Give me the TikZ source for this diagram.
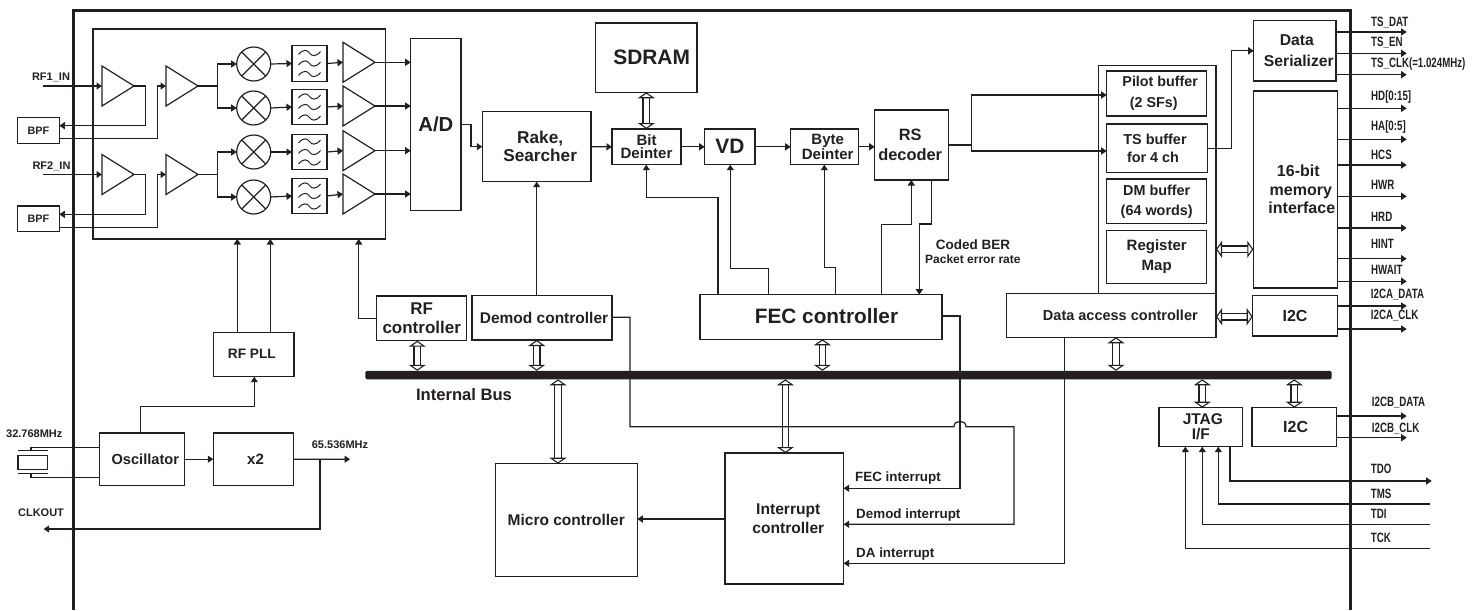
\documentclass[tikz,border=0pt]{standalone}
\usepackage{fontspec}
\setmainfont{Liberation Sans}
\newfontfamily\narrowfont[FakeStretch=0.72]{Liberation Sans}
\usetikzlibrary{arrows.meta,shapes.geometric,calc}
\definecolor{ink}{HTML}{231F20}
\tikzset{
  fs/.style 2 args={font=\bfseries\fontsize{#1}{#2}\selectfont,text=ink},
  block/.style 2 args={draw=ink,line width=1.2pt,anchor=north west,inner sep=0pt,outer sep=0pt,
    align=center,minimum width=#1pt,minimum height=#2pt},
  amp/.style={isosceles triangle,isosceles triangle stretches,shape border rotate=0,draw=ink,
    line width=1.2pt,inner sep=0pt,outer sep=0pt,minimum width=40pt,minimum height=32pt,anchor=west},
  mixer/.style={circle,draw=ink,line width=1.2pt,minimum size=34pt,inner sep=0pt,outer sep=0pt,
    path picture={
      \draw[ink,line width=1.2pt] (path picture bounding box.north west) -- (path picture bounding box.south east);
      \draw[ink,line width=1.2pt] (path picture bounding box.north east) -- (path picture bounding box.south west);}},
  lowpass/.style={block={35}{35.5},anchor=west,
    path picture={
      \foreach \ofs in {-10.5,0,10.5}
        \draw[ink,line width=1pt,shift={(path picture bounding box.center)}]
          (-11,{\ofs+1.5}) .. controls (-6,{\ofs-4.5}) and (-2,{\ofs-3}) .. (0,\ofs)
          .. controls (2,{\ofs+3}) and (6,{\ofs+4.5}) .. (11,{\ofs-1.5});}},
  flow/.style={-{Triangle[length=5.5pt,width=7pt]},draw=ink,line width=1.2pt},
  wire/.style={draw=ink,line width=1.2pt},
  busflow/.style={{Triangle[fill=white,length=6pt,width=17pt,line width=1.1pt]}-{Triangle[fill=white,length=6pt,width=17pt,line width=1.1pt]},
    draw=ink,line width=1.1pt,double=white,double distance=5.5pt},
  pinlabel/.style={anchor=west,inner sep=0pt,text=ink,font=\narrowfont\bfseries\fontsize{13.5}{14}\selectfont}
}
\begin{document}
\begin{tikzpicture}[x=1pt,y=-1pt]
  \useasboundingbox (0,0) rectangle (1482,610);

  % Chip outline, open at the bottom
  \draw[draw=ink,line width=3pt] (73,610) -- (73,11) -- (1350,11) -- (1350,610);

  % RF front end
  \node[block={292.7}{210}] (rfblock) at (93,29) {};
  \node[block={42}{26},fs={10.8}{12}] (bpfa) at (17.3,117.3) {BPF};
  \node[block={42}{25.7},fs={10.8}{12}] (bpfb) at (17.3,206) {BPF};
  \node[amp] (ampa) at (102,86) {};
  \node[amp] (ampb) at (166,86) {};
  \node[amp] (ampc) at (102,174.5) {};
  \node[amp] (ampd) at (166,174.5) {};
  \node[mixer] (mixa) at (253.7,64) {};
  \node[mixer] (mixb) at (253.7,108) {};
  \node[mixer] (mixc) at (253.7,152) {};
  \node[mixer] (mixd) at (253.7,197) {};
  \node[lowpass] (lpfa) at (292,63.5) {};
  \node[lowpass] (lpfb) at (292,107) {};
  \node[lowpass] (lpfc) at (292,152) {};
  \node[lowpass] (lpfd) at (292,196) {};
  \node[amp] (ampe) at (343,62.3) {};
  \node[amp] (ampf) at (343,106) {};
  \node[amp] (ampg) at (343,150.7) {};
  \node[amp] (amph) at (343,194) {};
  \node[block={50.3}{172},fs={20.3}{22}] (adc) at (410.7,38.7) {A/D};
  \node[fs={11}{12}] (rfalabel) at (51,77.3) {RF1\_IN};
  \node[fs={11}{12}] (rfblabel) at (51.5,166.7) {RF2\_IN};
  \coordinate (rfapin) at (43,86);
  \coordinate (rfbpin) at (43,174.5);

  % Clocks
  \node[block={80.3}{44.4},fs={13.7}{15}] (rfpll) at (213.7,332.3) {\hspace*{-4pt}\raisebox{2pt}{RF PLL}};
  \node[block={85}{52.3},fs={14.6}{16}] (osc) at (99.3,433) {\hspace*{7pt}Oscillator};
  \node[block={80.4}{52.3},fs={15}{16}] (doubler) at (213.3,433) {\hspace*{4pt}x2};
  \node[block={29.7}{13.6}] (xtal) at (18,455.7) {};
  \node[fs={11}{12}] (xtallabel) at (34.3,433.3) {32.768MHz};
  \node[fs={11}{12}] (x2label) at (340,444.7) {65.536MHz};
  \node[fs={11}{12}] (clklabel) at (41,513) {CLKOUT};
  \coordinate (x2pin) at (350,459.2);
  \coordinate (clkpin) at (43.7,529);

  % Baseband chain
  \node[block={108.7}{70},fs={17.2}{18}] (rake) at (482.3,111.7) {\hspace*{7pt}Rake,\\\hspace*{7pt}Searcher};
  \node[block={101.7}{69.3},fs={20.9}{22}] (sdram) at (595.3,23) {\hspace*{11pt}SDRAM};
  \node[block={69}{35.7},fs={15}{13.5}] (bit) at (612,129) {Bit\\Deinter};
  \node[block={50.3}{35.7},fs={20.9}{22}] (vd) at (704.7,129) {\raisebox{1.5pt}{VD}};
  \node[block={68}{35.7},fs={15}{15}] (byte) at (790.7,129) {\hspace*{6pt}Byte\\\hspace*{6pt}Deinter};
  \node[block={74}{70},fs={16.4}{20}] (rs) at (874.7,110) {\hspace*{-3pt}RS\\\hspace*{-3pt}decoder};
  \node[block={90}{44.7},fs={17}{19}] (rfctrl) at (376.7,296) {RF\\controller};
  \node[block={140}{44.3},fs={15.5}{17}] (demod) at (472,295.7) {\hspace*{4pt}\raisebox{-3pt}{Demod controller}};
  \node[block={242}{44.6},fs={20.8}{22}] (fec) at (700,294.7) {\hspace*{11pt}\raisebox{3pt}{FEC controller}};
  \node[fs={13.5}{15},anchor=west,inner sep=0pt] (berlabel) at (935.7,245) {Coded BER};
  \node[fs={12}{13},anchor=west,inner sep=0pt] (perlabel) at (925,259) {Packet error rate};

  % Buffers and host side
  \node[block={117.3}{228}] (regs) at (1098.7,65.3) {};
  \node[block={100}{45},fs={14.3}{21}] (pilot) at (1106.7,71) {\hspace*{7pt}Pilot buffer\\\hspace*{-6pt}(2 SFs)};
  \node[block={100.6}{48.3},fs={14.4}{17.5}] (ts) at (1106.7,124) {\hspace*{-4pt}TS buffer\\\hspace*{-8pt}for 4 ch};
  \node[block={100}{44.7},fs={14.4}{20}] (dm) at (1106.7,179) {DM buffer\\(64 words)};
  \node[block={100}{53},fs={15}{19.7}] (regmap) at (1106.7,230.3) {Register\\Map};
  \node[block={209.3}{44},fs={14.5}{17}] (da) at (1006.7,293.3) {\hspace*{18pt}Data access controller};
  \node[block={82.3}{60.3},fs={15.7}{20.7}] (ser) at (1253.7,20.7) {\hspace*{4pt}Data\\\hspace*{8pt}Serializer};
  \node[block={84}{197},fs={16}{18.3}] (mem) at (1253.3,91) {\hspace*{6pt}16-bit\\\hspace*{11pt}memory\\\hspace*{13pt}interface};
  \node[block={84.6}{40.7},fs={16}{18}] (icca) at (1252.7,295.3) {I2C};
  \node[block={83.7}{39},fs={15.5}{15}] (jtag) at (1159,407.7) {\hspace*{4pt}JTAG\\I/F};
  \node[block={84.3}{39},fs={16}{18}] (iccb) at (1252,407.7) {\hspace*{3pt}I2C};

  % Internal bus
  \node[fill=ink,rounded corners=1.5pt,anchor=north west,inner sep=0pt,outer sep=0pt,
    minimum width=966.4pt,minimum height=8.5pt] (bus) at (365.3,370.8) {};
  \node[fs={16.6}{18}] (buslabel) at (464,395) {Internal Bus};

  % Interrupt part
  \node[block={142}{113},fs={15.5}{17}] (micro) at (495.3,463.7) {\raisebox{-3pt}{Micro controller}};
  \node[block={118.6}{131},fs={15.6}{19}] (intr) at (725,453) {\hspace*{8pt}Interrupt\\\hspace*{8pt}controller};
  \node[fs={13.4}{15},anchor=west,inner sep=0pt] (feclabel) at (855,478.3) {FEC interrupt};
  \node[fs={13.4}{15},anchor=west,inner sep=0pt] (demlabel) at (856,515) {Demod interrupt};
  \node[fs={13.4}{15},anchor=west,inner sep=0pt] (dalabel) at (856,554) {DA interrupt};

  % Bus connections
  \draw[busflow] (417.3,0 |- rfctrl.south) -- (417.3,0 |- bus.north);
  \draw[busflow] (536.7,0 |- demod.south) -- (536.7,0 |- bus.north);
  \draw[busflow] (822.4,0 |- fec.south) -- (822.4,0 |- bus.north);
  \draw[busflow] (1116,0 |- da.south) -- (1116,0 |- bus.north);
  \draw[busflow] (558,0 |- bus.south) -- (558,0 |- micro.north);
  \draw[busflow] (785.4,0 |- bus.south) -- (785.4,0 |- intr.north);
  \draw[busflow] (1202.3,0 |- bus.south) -- (1202.3,0 |- jtag.north);
  \draw[busflow] (1294.3,0 |- bus.south) -- (1294.3,0 |- iccb.north);
  \draw[busflow] (646.3,0 |- sdram.south) -- (646.3,0 |- bit.north);
  \draw[busflow] (regs.east |- 0,249.3) -- (mem.west |- 0,249.3);
  \draw[busflow] (da.east |- 0,316.7) -- (icca.west |- 0,316.7);

  % RF paths
  \draw[flow] (rfapin) -- (ampa.west);
  \draw[flow] (rfbpin) -- (ampc.west);
  \draw[flow] (ampa.east) -- (145.3,0 |- ampa.east) |- (bpfa.east |- 0,125.7);
  \draw[flow] (ampc.east) -- (145.3,0 |- ampc.east) |- (bpfb.east |- 0,214.3);
  \draw[flow] (bpfa.east |- 0,138.7) -- (157.3,138.7) |- (ampb.west);
  \draw[flow] (bpfb.east |- 0,227.3) -- (157.3,227.3) |- (ampd.west);
  \draw[flow] (ampb.east) -- (217.3,0 |- ampb.east) |- (mixa.west);
  \draw[flow] (ampb.east) -- (217.3,0 |- ampb.east) |- (mixb.west);
  \draw[flow] (ampd.east) -- (217.3,0 |- ampd.east) |- (mixc.west);
  \draw[flow] (ampd.east) -- (217.3,0 |- ampd.east) |- (mixd.west);
  \draw[flow] (mixa.east) -- (lpfa.west);
  \draw[flow] (mixb.east) -- (lpfb.west);
  \draw[flow] (mixc.east) -- (lpfc.west);
  \draw[flow] (mixd.east) -- (lpfd.west);
  \draw[flow] (lpfa.east) -- (ampe.west);
  \draw[flow] (lpfb.east) -- (ampf.west);
  \draw[flow] (lpfc.east) -- (ampg.west);
  \draw[flow] (lpfd.east) -- (amph.west);
  \draw[flow] (ampe.east) -- (adc.west |- ampe.east);
  \draw[flow] (ampf.east) -- (adc.west |- ampf.east);
  \draw[flow] (ampg.east) -- (adc.west |- ampg.east);
  \draw[flow] (amph.east) -- (adc.west |- amph.east);

  % Crystal and clock paths
  \draw[wire] (18,450.7) -- (47.7,450.7);
  \draw[wire] (18,473.3) -- (47.7,473.3);
  \draw[wire] (31,450.7) -- (31,447.3) -- (osc.west |- 0,447.3);
  \draw[wire] (31,473.3) -- (31,477.3) -- (osc.west |- 0,477.3);
  \draw[flow] (osc.east) -- (doubler.west);
  \draw[flow] (doubler.east) -- (x2pin);
  \draw[flow] (320,0 |- doubler.east) |- (clkpin);
  \draw[flow] (140.7,0 |- osc.north) |- (254.3,406.7) -- (254.3,0 |- rfpll.south);
  \draw[flow] (237.3,0 |- rfpll.north) -- (237.3,0 |- rfblock.south);
  \draw[flow] (270.3,0 |- rfpll.north) -- (270.3,0 |- rfblock.south);
  \draw[flow] (rfctrl.west) -- (358.7,0 |- rfctrl.west) -- (358.7,0 |- rfblock.south);

  % Data chain
  \draw[flow] (adc.east) -- (471,0 |- adc.east) |- (rake.west);
  \draw[flow] (rake.east) -- (bit.west);
  \draw[flow] (bit.east) -- (vd.west);
  \draw[flow] (vd.east) -- (byte.west);
  \draw[flow] (byte.east) -- (rs.west |- byte.east);
  \draw[flow] (rs.east) -- (971.7,0 |- rs.east) |- (pilot.west |- 0,95);
  \draw[flow] (rs.east) -- (971.7,0 |- rs.east) |- (ts.west |- 0,151);
  \draw[flow] (ts.east) -- (1231.7,0 |- ts.east) |- (ser.west);
  \draw[flow] (536.7,0 |- demod.north) -- (536.7,0 |- rake.south);

  % FEC controls
  \draw[flow] (718,0 |- fec.north) |- (646.3,197.3) -- (646.3,0 |- bit.south);
  \draw[flow] (768.7,0 |- fec.north) |- (730.3,268.7) -- (730.3,0 |- vd.south);
  \draw[flow] (835.7,0 |- fec.north) |- (824.3,267.7) -- (824.3,0 |- byte.south);
  \draw[flow] (881.3,0 |- fec.north) |- (911.3,224.7) -- (911.3,0 |- rs.south);
  \draw[flow] (931.7,0 |- rs.south) |- (919.3,224) -- (919.3,0 |- fec.north);

  % Interrupt lines
  \draw[flow] (fec.east |- 0,316) -| (960,488.3) -- (intr.east |- 0,488.3);
  \draw[flow] (demod.east |- 0,317.3) -| (630,426.7) -- (954,426.7)
    .. controls (954,419.5) and (966,419.5) .. (966,426.7) -| (1013.9,524.3) -- (intr.east |- 0,524.3);
  \draw[flow] (1064.8,0 |- da.south) |- (intr.east |- 0,563.3);
  \draw[flow] (intr.west |- 0,519) -- (micro.east |- 0,519);

  % Transport stream pins
  \coordinate (tsdatpin) at (1406.7,32);
  \coordinate (tsenpin) at (1406.7,53.3);
  \coordinate (tsclkpin) at (1406.7,74.7);
  \draw[flow] (ser.east |- tsdatpin) -- (tsdatpin);
  \draw[flow] (ser.east |- tsenpin) -- (tsenpin);
  \draw[flow] (ser.east |- tsclkpin) -- (tsclkpin);
  \node[pinlabel] (tsdatlabel) at (1371,22.7) {TS\_DAT};
  \node[pinlabel] (tsenlabel) at (1371,42.3) {TS\_EN};
  \node[pinlabel] (tsclklabel) at (1371,64) {TS\_CLK(=1.024MHz)};

  % Host pins
  \coordinate (hdpin) at (1406.7,108.3);
  \coordinate (hapin) at (1406.7,139.3);
  \coordinate (hcspin) at (1406.7,165);
  \coordinate (hwrpin) at (1406.7,196.3);
  \coordinate (hrdpin) at (1406.7,228);
  \coordinate (hintpin) at (1406.7,258.7);
  \coordinate (hwaitpin) at (1406.7,281.3);
  \draw[flow] (mem.east |- hdpin) -- (hdpin);
  \draw[flow] (mem.east |- hapin) -- (hapin);
  \draw[flow] (mem.east |- hcspin) -- (hcspin);
  \draw[flow] (mem.east |- hwrpin) -- (hwrpin);
  \draw[flow] (mem.east |- hrdpin) -- (hrdpin);
  \draw[flow] (mem.east |- hintpin) -- (hintpin);
  \draw[flow] (mem.east |- hwaitpin) -- (hwaitpin);
  \node[pinlabel] (hdlabel) at (1371,96.7) {HD[0:15]};
  \node[pinlabel] (halabel) at (1371,127.3) {HA[0:5]};
  \node[pinlabel] (hcslabel) at (1371,155) {HCS};
  \node[pinlabel] (hwrlabel) at (1371,185) {HWR};
  \node[pinlabel] (hrdlabel) at (1371,216.7) {HRD};
  \node[pinlabel] (hintlabel) at (1371,244.3) {HINT};
  \node[pinlabel] (hwaitlabel) at (1371,270.3) {HWAIT};

  % I2C pins
  \coordinate (iadpin) at (1406.7,306);
  \coordinate (iacpin) at (1406.7,329);
  \coordinate (ibdpin) at (1406.7,416);
  \coordinate (ibcpin) at (1406.7,437.7);
  \draw[flow] (icca.east |- iadpin) -- (iadpin);
  \draw[flow] (icca.east |- iacpin) -- (iacpin);
  \draw[flow] (iccb.east |- ibdpin) -- (ibdpin);
  \draw[flow] (iccb.east |- ibcpin) -- (ibcpin);
  \node[pinlabel] (iadlabel) at (1370.7,294.7) {I2CA\_DATA};
  \node[pinlabel] (iaclabel) at (1370.7,316) {I2CA\_CLK};
  \node[pinlabel] (ibdlabel) at (1371.7,402.3) {I2CB\_DATA};
  \node[pinlabel] (ibclabel) at (1371.7,428.3) {I2CB\_CLK};

  % JTAG pins
  \coordinate (tdopin) at (1431.7,481);
  \coordinate (tmspin) at (1430,504);
  \coordinate (tdipin) at (1430,524.7);
  \coordinate (tckpin) at (1430,548.3);
  \draw[flow] (1230,0 |- jtag.south) |- (tdopin);
  \draw[flow] (tmspin) -| (1218.3,0 |- jtag.south);
  \draw[flow] (tdipin) -| (1202.3,0 |- jtag.south);
  \draw[flow] (tckpin) -| (1185.3,0 |- jtag.south);
  \node[pinlabel] (tdolabel) at (1370.7,469) {TDO};
  \node[pinlabel] (tmslabel) at (1370.7,494) {TMS};
  \node[pinlabel] (tdilabel) at (1370.7,514.3) {TDI};
  \node[pinlabel] (tcklabel) at (1370.7,538.3) {TCK};
\end{tikzpicture}
\end{document}
